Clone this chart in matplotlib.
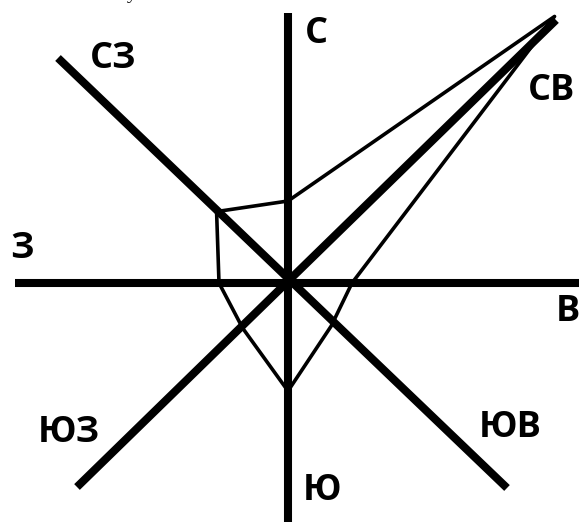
import numpy as np
import matplotlib
matplotlib.use("Agg")
import matplotlib.pyplot as plt

# Wind rose data (relative frequency, arbitrary units)
directions = ["С", "СВ", "В", "ЮВ", "Ю", "ЮЗ", "З", "СЗ"]
values = [82, 377, 64, 61, 108, 64, 69, 101]
angles_deg = [90, 45, 0, -45, -90, -135, 180, 135]

W, H = 579, 522
cx, cy = 288, 283  # centre in pixels (from top-left)

fig = plt.figure(figsize=(W / 100, H / 100), dpi=100)
ax = fig.add_axes([0, 0, 1, 1])
ax.set_xlim(-cx, W - cx)
ax.set_ylim(-(H - cy), cy)
ax.set_aspect("auto")
ax.axis("off")

# axis lines (compass directions)
axis_lw = 5.8
ax.plot([0, 0], [-(H - cy) - 5, cy - 13], color="black", lw=axis_lw, solid_capstyle="butt")
ax.plot([-cx + 15, W - cx + 5], [0, 0], color="black", lw=axis_lw, solid_capstyle="butt")
ax.plot([-211, 268], [-204, 263], color="black", lw=axis_lw, solid_capstyle="butt")
ax.plot([-230, 219], [225, -205], color="black", lw=axis_lw, solid_capstyle="butt")

# rose polygon
a = np.deg2rad(angles_deg)
v = np.array(values, dtype=float)
xs = v * np.cos(a)
ys = v * np.sin(a)
xs = np.append(xs, xs[0])
ys = np.append(ys, ys[0])
ax.plot(xs, ys, color="black", lw=2.6, solid_joinstyle="round")

# labels (pixel positions of label centres)
label_pos = {
    "С": (316, 34),
    "СВ": (552, 91),
    "В": (568, 312),
    "ЮВ": (510, 428),
    "Ю": (322, 491),
    "ЮЗ": (69, 433),
    "З": (22, 249),
    "СЗ": (113, 59),
}
for d in directions:
    px, py = label_pos[d]
    ax.text(px - cx, cy - py, d, ha="center", va="center",
            fontsize=26, fontweight="bold",
            family=["Open Sans", "DejaVu Sans"], color="black")

# cut-off caption fragment at top
fig.text(127 / W, 1 + 1 / H, "у", ha="left", va="baseline",
         fontsize=14, family=["Liberation Serif", "DejaVu Serif"], color="black")

fig.savefig("out.png", dpi=100)
